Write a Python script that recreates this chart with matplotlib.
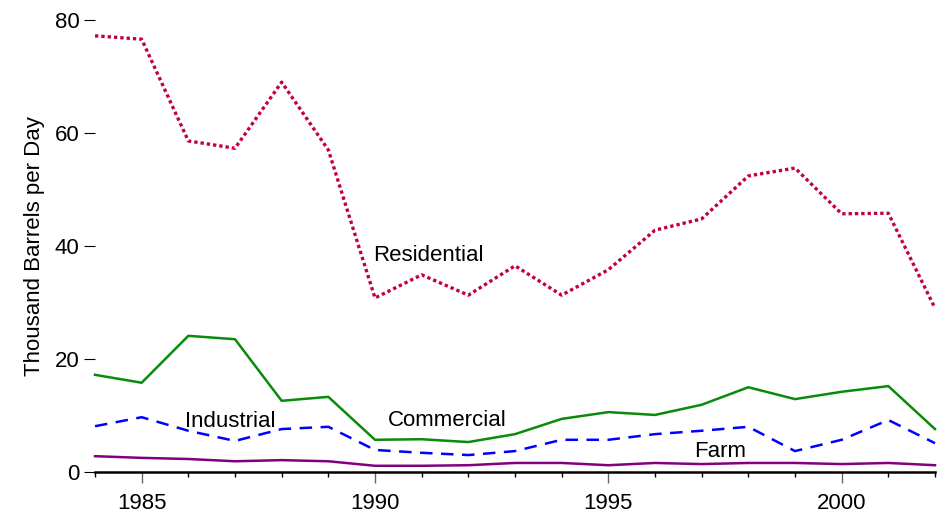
import matplotlib
matplotlib.use("Agg")
import matplotlib.pyplot as plt
from matplotlib.ticker import MultipleLocator

years = list(range(1984, 2003))

residential = [77.2, 76.6, 58.6, 57.3, 69.0, 57.0, 30.8, 34.9, 31.3, 36.5,
               31.3, 35.8, 42.8, 44.8, 52.4, 53.8, 45.7, 45.8, 29.0]
commercial = [17.2, 15.8, 24.1, 23.5, 12.6, 13.3, 5.7, 5.8, 5.3, 6.7,
              9.4, 10.6, 10.1, 11.9, 15.0, 12.9, 14.2, 15.2, 7.6]
industrial = [8.1, 9.7, 7.3, 5.5, 7.6, 8.0, 3.9, 3.4, 3.0, 3.7,
              5.7, 5.7, 6.7, 7.3, 8.0, 3.7, 5.7, 9.2, 5.1]
farm = [2.8, 2.5, 2.3, 1.9, 2.1, 1.9, 1.1, 1.1, 1.2, 1.6,
        1.6, 1.2, 1.6, 1.4, 1.6, 1.6, 1.4, 1.6, 1.2]

plt.rcParams['font.family'] = ['Liberation Sans', 'DejaVu Sans']
fs = 16

fig = plt.figure(figsize=(9.5, 5.15), dpi=100)
ax = fig.add_axes([95 / 950, 1 - 472 / 515, 840 / 950, 452 / 515])

ax.plot(years, residential, color='#c4003c', lw=2.4, ls=(0, (1, 0.9)), clip_on=False)
ax.plot(years, commercial, color='#0a8a0a', lw=1.8, clip_on=False)
ax.plot(years, industrial, color='#0000ff', lw=1.8, ls=(0, (5, 3.4)), clip_on=False)
ax.plot(years, farm, color='#800080', lw=1.8, clip_on=False)

ax.text(1989.95, 38.3, 'Residential', fontsize=fs, ha='left', va='center')
ax.text(1986.9, 8.9, 'Industrial', fontsize=fs, ha='center', va='center')
ax.text(1991.55, 9.2, 'Commercial', fontsize=fs, ha='center', va='center')
ax.text(1997.4, 3.6, 'Farm', fontsize=fs, ha='center', va='center')

ax.set_xlim(1984, 2002)
ax.set_ylim(0, 80)
ax.xaxis.set_major_locator(MultipleLocator(5))
ax.xaxis.set_minor_locator(MultipleLocator(1))
ax.yaxis.set_major_locator(MultipleLocator(20))

for s in ['top', 'right', 'left']:
    ax.spines[s].set_visible(False)
ax.spines['bottom'].set_linewidth(1.8)

ax.tick_params(axis='x', which='major', length=8, width=1, color='#666666',
               labelsize=fs, pad=7)
ax.tick_params(axis='x', which='minor', length=3.6, width=1, color='black')
ax.tick_params(axis='y', which='major', length=8, width=0.8, labelsize=fs, pad=3)

ax.set_ylabel('Thousand Barrels per Day', fontsize=fs, labelpad=7)

fig.savefig('out.png', dpi=100)
